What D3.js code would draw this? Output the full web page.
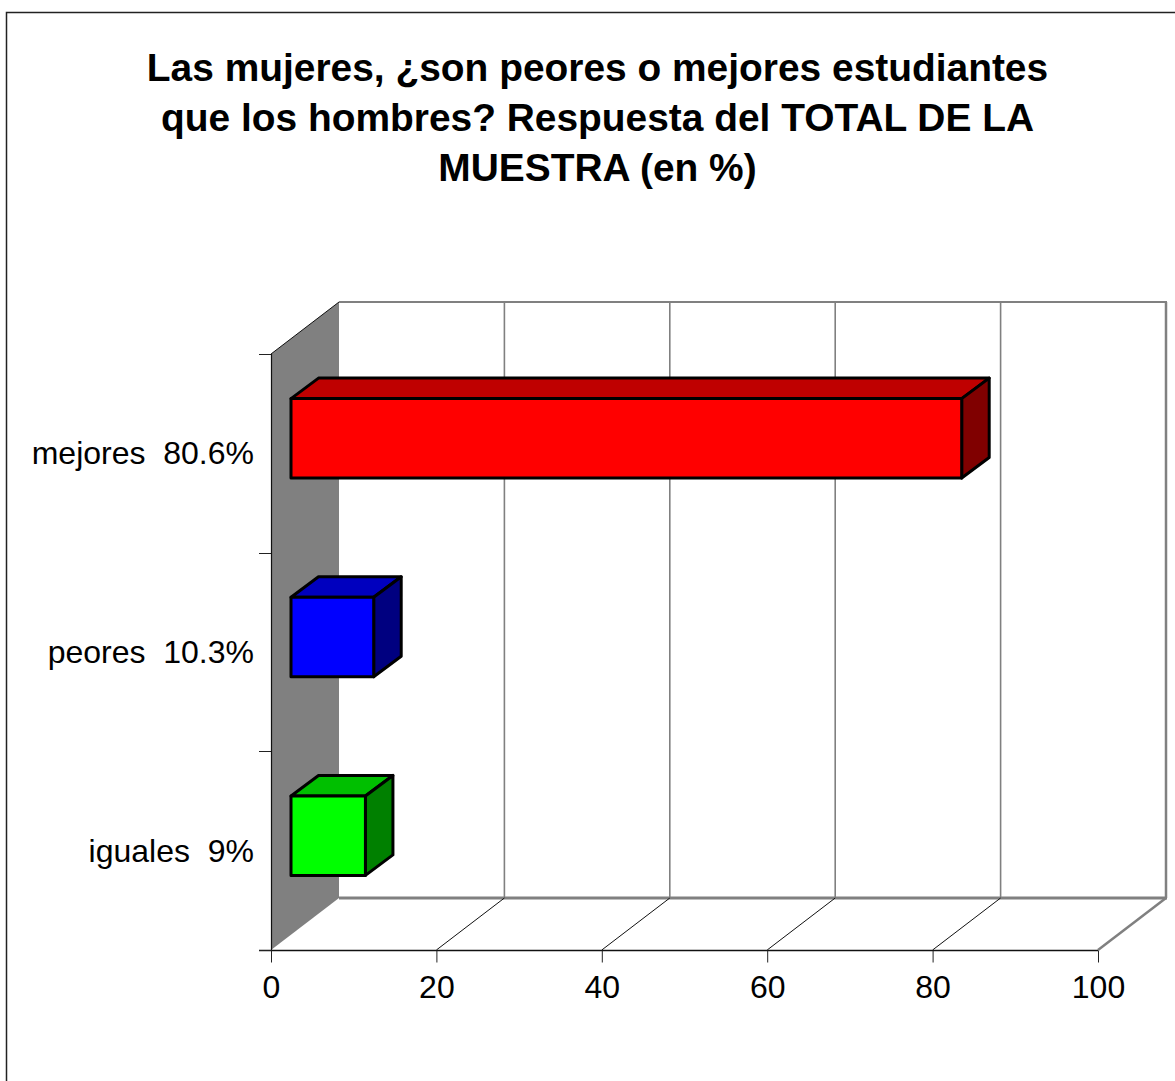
<!DOCTYPE html>
<html><head><meta charset="utf-8">
<script src="https://cdn.jsdelivr.net/npm/d3@7/dist/d3.min.js"></script>
<style>html,body{margin:0;padding:0;background:#fff}svg{display:block;font-family:"Liberation Sans",Arial,sans-serif}</style>
</head><body><div id="c"></div>
<script>
const titleLines = ["Las mujeres, ¿son peores o mejores estudiantes","que los hombres? Respuesta del TOTAL DE LA","MUESTRA (en %)"];
const categories = ["mejores  80.6%","peores  10.3%","iguales  9%"];
const values = [81.1,10.0,9.0];
const colors = ["#ff0000","#0000ff","#00ff00"];
const topColors = ["#bf0000","#0000bf","#00bf00"];
const sideColors = ["#800000","#000080","#008000"];
const xTicks = [0,20,40,60,80,100];

const W=1175,H=1081;
const svg=d3.select("#c").append("svg").attr("width",W).attr("height",H);
const x=d3.scaleLinear().domain([0,100]).range([271,1098]);
const y=d3.scaleBand().domain(categories).range([354,950]);
const dx=68,dy=-52;            // chart depth
const bdx=27.5,bdy=-20.5;      // bar depth
const ox=20,oy=-15;            // bar offset into the depth
const barH=y.bandwidth()*0.4;
const gray="#808080";
const x0=x(0),yT=y.range()[0],yB=y.range()[1];

svg.append("path").attr("d",`M6.5,${H}V12.5H${W}`).attr("fill","none").attr("stroke","#222").attr("stroke-width",1.5);

svg.selectAll("text.title").data(titleLines).join("text").attr("class","title")
  .attr("x",597.5).attr("y",(d,i)=>81+i*50).attr("text-anchor","middle")
  .attr("font-size",38.9).attr("font-weight","bold").attr("fill","#000").text(d=>d);

// left wall
svg.append("path").attr("d",`M${x0},${yT}L${x0+dx},${yT+dy}V${yB+dy}L${x0},${yB}Z`).attr("fill",gray);
// back wall gridlines
svg.selectAll("line.grid").data(xTicks.slice(1)).join("line").attr("class","grid")
  .attr("x1",d=>x(d)+dx).attr("x2",d=>x(d)+dx).attr("y1",yT+dy).attr("y2",yB+dy)
  .attr("stroke",gray).attr("stroke-width",d=>d===100?2.5:1.6);
svg.append("line").attr("x1",x0+dx).attr("x2",x(100)+dx+1).attr("y1",yT+dy).attr("y2",yT+dy).attr("stroke",gray).attr("stroke-width",2);
svg.append("line").attr("x1",x0+dx).attr("x2",x(100)+dx+1).attr("y1",yB+dy).attr("y2",yB+dy).attr("stroke",gray).attr("stroke-width",3);
// floor lines
svg.selectAll("line.floor").data(xTicks.slice(1,-1)).join("line").attr("class","floor")
  .attr("x1",d=>x(d)).attr("x2",d=>x(d)+dx).attr("y1",yB).attr("y2",yB+dy).attr("stroke","#111").attr("stroke-width",1);
svg.append("line").attr("x1",x(100)).attr("x2",x(100)+dx).attr("y1",yB).attr("y2",yB+dy).attr("stroke",gray).attr("stroke-width",2.5);
// wall's top edge
svg.append("line").attr("x1",x0).attr("x2",x0+dx).attr("y1",yT).attr("y2",yT+dy).attr("stroke","#111").attr("stroke-width",1);

// axes
const xAxis=d3.axisBottom(x).tickValues(xTicks).tickSize(12).tickPadding(13).tickFormat(d3.format("d"));
const gx=svg.append("g").attr("transform",`translate(0,${yB+.5})`).call(xAxis);
gx.selectAll("path.domain").attr("d",`M${x0-12},0H${x(100)}`).attr("stroke","#111").attr("stroke-width",1.5);
gx.selectAll("line").attr("stroke","#222");
gx.selectAll("text").attr("font-size",32).attr("font-family","Liberation Sans").attr("fill","#000");

const yAxisTicks=[...categories.map(c=>y(c)),yB];
svg.selectAll("line.yt").data(yAxisTicks).join("line").attr("class","yt")
  .attr("x1",x0-12).attr("x2",x0).attr("y1",d=>Math.round(d)+.5).attr("y2",d=>Math.round(d)+.5).attr("stroke","#222");
svg.append("line").attr("x1",x0+.5).attr("x2",x0+.5).attr("y1",yT).attr("y2",yB).attr("stroke","#111").attr("stroke-width",1.2);
svg.selectAll("text.cat").data(categories).join("text").attr("class","cat")
  .attr("x",254).attr("y",d=>y(d)+y.bandwidth()/2+11).attr("text-anchor","end")
  .attr("font-size",32).attr("fill","#000").style("white-space","pre").text(d=>d);

// bars
const rows=categories.map((c,i)=>({c,v:values[i],i}));
const geo=d=>{const l=x0+ox,r=x(d.v)+ox,t=y(d.c)+y.bandwidth()/2+oy-barH/2,b=t+barH;return{l,r,t,b};};
const bars=svg.selectAll("g.bar").data(rows).join("g").attr("class","bar")
  .attr("stroke","#000").attr("stroke-width",3).attr("stroke-linejoin","round");
bars.append("path").attr("fill",d=>topColors[d.i]).attr("d",d=>{const g=geo(d);return `M${g.l},${g.t}L${g.l+bdx},${g.t+bdy}H${g.r+bdx}L${g.r},${g.t}Z`;});
bars.append("path").attr("fill",d=>sideColors[d.i]).attr("d",d=>{const g=geo(d);return `M${g.r},${g.t}L${g.r+bdx},${g.t+bdy}V${g.b+bdy}L${g.r},${g.b}Z`;});
bars.append("rect").attr("fill",d=>colors[d.i]).attr("x",d=>geo(d).l).attr("y",d=>geo(d).t)
  .attr("width",d=>geo(d).r-geo(d).l).attr("height",barH);
</script></body></html>
